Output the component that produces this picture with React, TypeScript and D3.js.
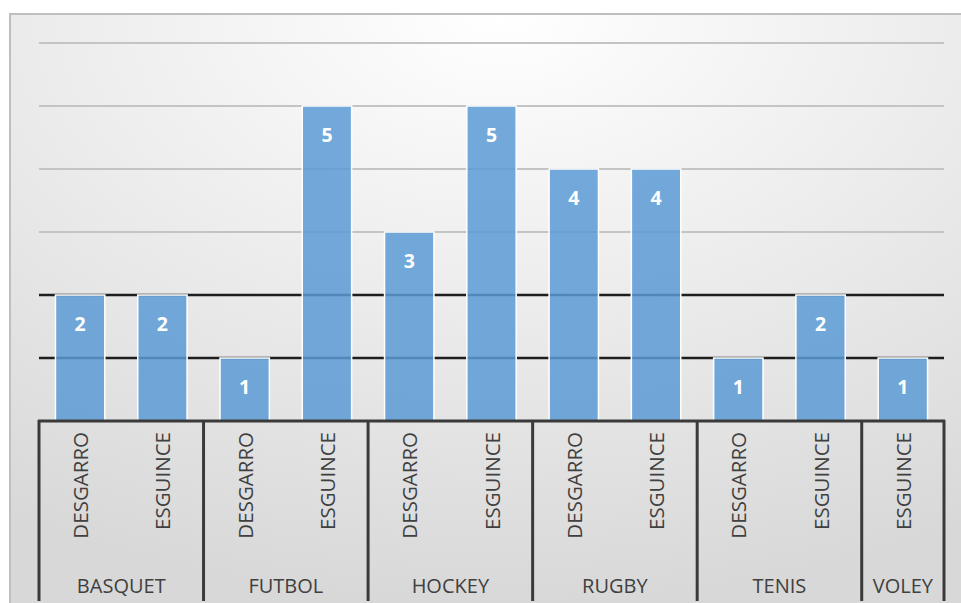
import React from "react";
import * as d3 from "d3";

const groups = ["BASQUET", "FUTBOL", "HOCKEY", "RUGBY", "TENIS", "VOLEY"];
const groupItems = [
  ["DESGARRO", "ESGUINCE"],
  ["DESGARRO", "ESGUINCE"],
  ["DESGARRO", "ESGUINCE"],
  ["DESGARRO", "ESGUINCE"],
  ["DESGARRO", "ESGUINCE"],
  ["ESGUINCE"],
];
const values = [2, 2, 1, 5, 3, 5, 4, 4, 1, 2, 1];
const gridTicks = [1, 2, 3, 4, 5, 6];

const W = 961;
const H = 603;
const FONT = "'Open Sans', 'Liberation Sans', sans-serif";

export default function App() {
  const bars: { key: string; label: string; value: number }[] = [];
  let idx = 0;
  groupItems.forEach((items, g) => {
    items.forEach((it) => {
      bars.push({ key: `${g}-${it}`, label: it, value: values[idx] });
      idx++;
    });
  });

  const x = d3
    .scaleBand<string>()
    .domain(bars.map((b) => b.key))
    .range([39, 944])
    .paddingInner(0.4)
    .paddingOuter(0.2);
  const y = d3.scaleLinear().domain([0, 6]).range([421, 43]);
  const step = x.step();
  const x0 = 39;

  const boundaries: number[] = [x0];
  let c = 0;
  const groupCenters: number[] = [];
  groupItems.forEach((items) => {
    const start = x0 + c * step;
    c += items.length;
    const end = x0 + c * step;
    boundaries.push(end);
    groupCenters.push((start + end) / 2);
  });

  return (
    <div style={{ position: "absolute", left: 0, top: 0 }}>
      <svg width={W} height={H} style={{ display: "block" }}>
        <defs>
          <radialGradient id="bg" cx="50%" cy="0%" r="95%" fx="50%" fy="0%">
            <stop offset="0%" stopColor="#ffffff" />
            <stop offset="100%" stopColor="#d8d8d8" />
          </radialGradient>
        </defs>
        <rect x={0} y={0} width={W} height={H} fill="#ffffff" />
        <rect x={10} y={14} width={W + 20} height={H + 20} fill="url(#bg)" stroke="#bfbfbf" strokeWidth={2} />
        {gridTicks.map((t) => (
          <line
            key={t}
            x1={39}
            x2={944}
            y1={y(t)}
            y2={y(t)}
            stroke={t <= 2 ? "#1e1e1e" : "#c4c4c4"}
            strokeWidth={t <= 2 ? 2.5 : 2}
          />
        ))}
        {bars.map((b) => (
          <g key={b.key}>
            <rect
              x={x(b.key)}
              y={y(b.value)}
              width={x.bandwidth()}
              height={y(0) - y(b.value)}
              fill="#5b9bd5"
              fillOpacity={0.85}
              stroke="#ffffff"
              strokeWidth={1.5}
            />
            <text
              x={(x(b.key) as number) + x.bandwidth() / 2}
              y={y(b.value) + 36}
              textAnchor="middle"
              fill="#ffffff"
              fontFamily={FONT}
              fontWeight={700}
              fontSize={19.5}
            >
              {b.value}
            </text>
            <text
              transform={`translate(${(x(b.key) as number) + x.bandwidth() / 2},432) rotate(-90)`}
              textAnchor="end"
              dominantBaseline="central"
              fill="#404040"
              fontFamily={FONT}
              fontSize={20.5}
            >
              {b.label}
            </text>
          </g>
        ))}
        <line x1={38} x2={945} y1={421} y2={421} stroke="#3a3a3a" strokeWidth={3} />
        {boundaries.map((bx, i) => (
          <line key={i} x1={bx} x2={bx} y1={420} y2={601} stroke="#3a3a3a" strokeWidth={3} />
        ))}
        {groups.map((g, i) => (
          <text
            key={g}
            x={groupCenters[i]}
            y={593}
            textAnchor="middle"
            fill="#404040"
            fontFamily={FONT}
            fontSize={20}
          >
            {g}
          </text>
        ))}
      </svg>
    </div>
  );
}
